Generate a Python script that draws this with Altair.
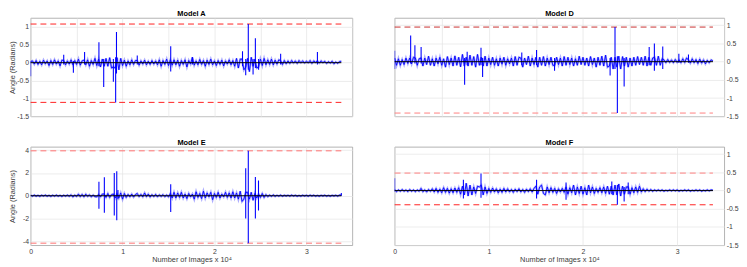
import altair as alt
import numpy as np
import pandas as pd

# ---------------- data ----------------
STEP = 200
N = 170
X_IMAGES = [i * STEP for i in range(N)]   # sample index (number of images)
X_END = 33800

# background noise band of each model (one value per 200 images)
MODEL_A = [
    0.03, 0.05, -0.04, 0.06, -0.05, 0.04, -0.06, 0.07, -0.03, 0.05,
    -0.08, 0.06, -0.05, 0.08, -0.04, 0.05, -0.09, 0.07, 0.06, -0.06,
    0.05, -0.04, 0.08, -0.06, 0.06, -0.05, 0.10, -0.07, 0.05, 0.07,
    -0.06, 0.08, -0.10, 0.06, -0.05, 0.12, -0.08, 0.10, -0.12, 0.10,
    -0.10, 0.12, -0.10, 0.14, -0.15, -0.12, -0.15, 0.14, -0.20, 0.12,
    -0.08, 0.07, -0.10, 0.05, -0.06, 0.08, -0.05, 0.06, 0.06, -0.07,
    0.05, -0.04, 0.07, -0.06, 0.04, -0.05, 0.06, -0.04, 0.05, -0.06,
    0.08, -0.10, 0.06, -0.05, 0.10, -0.08, 0.08, -0.07, 0.08, -0.06,
    0.07, -0.10, 0.06, -0.05, 0.08, -0.12, 0.06, -0.04, 0.15, -0.07,
    0.05, -0.06, 0.09, -0.05, 0.06, -0.10, 0.07, -0.05, 0.10, -0.06,
    0.05, -0.08, 0.06, -0.05, 0.07, -0.09, 0.05, -0.04, 0.08, -0.06,
    0.06, -0.10, 0.12, -0.15, 0.10, 0.10, -0.20, -0.12, 0.12, -0.25,
    0.15, -0.10, 0.10, -0.15, -0.12, 0.10, -0.08, 0.12, -0.06, 0.08,
    -0.05, 0.10, -0.06, 0.07, -0.04, 0.08, 0.05, -0.05, 0.06, -0.03,
    0.05, -0.02, 0.06, -0.01, 0.05, -0.02, 0.06, 0.00, 0.05, -0.01,
    0.04, 0.00, 0.06, -0.02, 0.05, 0.01, 0.05, -0.01, 0.05, 0.00,
    0.04, -0.02, 0.03, -0.01, 0.04, -0.03, 0.02, -0.02, 0.03, 0.04,
]

MODEL_D = [
    0.10, -0.10, 0.08, -0.10, 0.06, -0.08, 0.10, -0.05, 0.10, -0.06,
    0.12, 0.10, -0.10, 0.08, 0.10, -0.12, 0.10, -0.08, 0.15, -0.10,
    0.08, -0.12, 0.10, -0.06, 0.12, -0.10, 0.08, -0.15, 0.14, -0.08,
    0.10, -0.12, 0.16, -0.10, 0.12, -0.14, 0.20, -0.12, 0.12, -0.12,
    0.18, -0.10, 0.14, -0.15, 0.20, -0.10, 0.12, -0.12, 0.15, -0.12,
    0.10, -0.08, 0.12, -0.10, 0.08, -0.12, 0.10, -0.07, 0.12, -0.10,
    0.08, -0.06, 0.10, -0.12, 0.14, -0.10, 0.12, 0.10, -0.15, 0.10,
    -0.08, 0.15, -0.12, 0.10, -0.08, 0.12, -0.15, 0.12, -0.10, 0.14,
    -0.12, 0.10, -0.08, 0.12, -0.10, -0.10, 0.12, -0.08, 0.10, -0.12,
    0.14, -0.10, 0.12, -0.08, 0.10, -0.12, 0.08, -0.10, 0.15, -0.08,
    0.12, -0.10, 0.10, -0.12, 0.14, -0.08, 0.10, -0.15, 0.12, -0.10,
    0.15, -0.12, 0.18, -0.15, -0.12, 0.12, -0.20, 0.12, -0.15, 0.15,
    -0.20, 0.14, -0.12, 0.12, -0.15, 0.10, -0.12, 0.12, -0.10, 0.14,
    -0.08, 0.12, -0.10, 0.15, -0.12, 0.12, -0.10, 0.10, 0.12, -0.10,
    0.15, -0.10, 0.08, 0.05, -0.03, 0.06, -0.02, 0.05, -0.03, 0.06,
    -0.02, 0.05, -0.03, 0.08, -0.02, 0.10, 0.05, -0.04, 0.08, -0.03,
    0.06, -0.05, 0.07, -0.04, 0.05, -0.06, 0.04, -0.03, 0.05, 0.02,
]

MODEL_E = [
    0.05, -0.04, 0.06, -0.05, 0.04, -0.06, 0.05, -0.03, 0.06, -0.05,
    0.04, -0.06, 0.05, -0.04, 0.06, -0.05, 0.04, -0.07, 0.05, -0.04,
    0.06, -0.05, 0.08, -0.10, 0.05, -0.06, 0.15, -0.08, 0.12, -0.10,
    0.14, -0.06, 0.08, -0.10, 0.06, -0.08, -0.10, 0.12, -0.10, 0.15,
    0.15, -0.15, 0.20, -0.15, 0.10, 0.15, -0.20, 0.20, -0.20, 0.25,
    -0.30, 0.20, -0.15, 0.12, -0.10, 0.15, -0.12, 0.10, 0.20, -0.08,
    0.12, -0.10, 0.25, -0.08, 0.15, -0.12, 0.10, -0.08, 0.12, -0.10,
    0.08, -0.06, 0.10, -0.08, 0.06, -0.10, 0.20, -0.20, 0.30, -0.20,
    0.25, -0.15, 0.30, -0.20, 0.15, -0.25, 0.20, -0.10, 0.15, -0.30,
    0.35, -0.15, 0.20, -0.25, 0.40, -0.20, 0.25, -0.10, 0.30, -0.35,
    0.20, -0.15, 0.30, -0.20, 0.15, -0.10, 0.30, -0.15, 0.25, -0.20,
    0.35, -0.20, 0.25, -0.30, 0.40, -0.50, -0.30, 0.30, 0.30, -0.30,
    0.30, -0.40, 0.20, -0.20, 0.15, -0.15, 0.20, -0.15, 0.10, -0.08,
    0.06, -0.05, 0.08, -0.06, 0.05, -0.04, 0.06, -0.05, 0.04, -0.03,
    0.05, -0.04, 0.06, -0.03, 0.04, -0.05, 0.03, -0.04, 0.05, -0.03,
    0.04, -0.05, 0.06, -0.03, 0.05, -0.04, 0.03, -0.05, 0.04, -0.03,
    0.05, -0.04, 0.03, -0.05, 0.04, -0.03, 0.05, -0.04, 0.06, 0.05,
]

MODEL_F = [
    0.03, -0.03, 0.02, -0.02, 0.03, -0.02, 0.02, -0.03, 0.03, -0.02,
    0.02, -0.03, 0.02, -0.02, 0.06, -0.03, 0.02, -0.04, 0.03, -0.02,
    0.05, -0.04, 0.06, -0.05, 0.04, -0.06, 0.08, -0.05, 0.06, -0.07,
    0.05, -0.06, 0.07, -0.05, 0.08, -0.10, 0.12, -0.12, 0.20, -0.15,
    0.15, -0.12, 0.10, -0.08, 0.12, 0.10, 0.15, -0.12, 0.10, -0.08,
    0.06, -0.05, 0.07, -0.04, 0.05, -0.06, 0.04, -0.05, 0.06, -0.04,
    0.05, -0.04, 0.03, -0.05, 0.04, -0.03, 0.05, -0.04, 0.03, -0.05,
    0.04, -0.03, 0.05, -0.04, 0.06, 0.12, -0.10, 0.10, 0.15, -0.08,
    -0.12, 0.10, -0.06, 0.08, -0.05, 0.06, -0.08, 0.05, -0.04, 0.06,
    -0.05, 0.10, -0.10, 0.08, -0.06, 0.15, -0.12, 0.10, -0.08, 0.12,
    -0.10, 0.08, -0.12, 0.15, -0.06, 0.10, -0.08, 0.06, -0.05, 0.08,
    -0.06, 0.10, -0.08, 0.12, -0.10, 0.12, -0.12, 0.15, -0.12, 0.18,
    -0.15, 0.12, -0.10, 0.10, 0.10, -0.10, 0.08, -0.06, 0.10, -0.05,
    0.12, -0.04, 0.05, -0.03, 0.04, -0.02, 0.03, -0.02, 0.02, -0.01,
    0.02, -0.01, 0.02, -0.02, 0.01, -0.01, 0.02, -0.01, 0.02, -0.01,
    0.02, -0.02, 0.01, -0.01, 0.02, -0.01, 0.02, -0.02, 0.01, -0.01,
    0.02, -0.01, 0.02, -0.02, 0.01, -0.01, 0.02, -0.01, 0.02, 0.01,
]

# isolated spikes: image index, lowest and highest angle reached
SPIKE_X_A = [0, 3600, 4650, 5870, 7430, 7950, 9000, 9250, 9340, 11600, 15240, 17600,
             23050, 23400, 23680, 24200, 24450, 24800, 27200, 31200]
SPIKE_LO_A = [-0.38, -0.05, -0.28, -0.05, -0.10, -0.68, -0.53, -1.11, -0.30, -0.05, -0.25, -0.05,
              -0.10, -0.35, -0.20, -0.33, -0.15, -0.20, -0.05, -0.05]
SPIKE_HI_A = [0.05, 0.22, 0.05, 0.30, 0.57, 0.10, 0.10, 0.15, 0.86, 0.20, 0.46, 0.15,
              0.32, 0.10, 1.08, 0.10, 0.68, 0.10, 0.25, 0.30]

SPIKE_X_D = [0, 1700, 2150, 2810, 7430, 7700, 9170, 9340, 13500, 15070, 16980, 22880,
             23400, 23650, 24370, 27030, 27580, 28470, 30180, 31200]
SPIKE_LO_D = [-0.20, -0.05, -0.05, -0.05, -0.63, -0.10, -0.10, -0.42, -0.10, -0.10, -0.25, -0.38,
              -0.20, -1.41, -0.68, -0.10, -0.25, -0.20, -0.03, -0.03]
SPIKE_HI_D = [0.30, 0.72, 0.45, 0.40, 0.10, 0.27, 0.38, 0.10, 0.25, 0.32, 0.10, 0.10,
              0.95, 0.15, 0.10, 0.40, 0.50, 0.42, 0.22, 0.20]

SPIKE_X_E = [7430, 8020, 9100, 9370, 9500, 15240, 23400, 23680, 24450, 24790, 33800]
SPIKE_LO_E = [-1.15, -1.50, -1.74, -2.16, -0.30, -1.43, -1.99, -4.17, -2.00, -1.30, 0.00]
SPIKE_HI_E = [1.24, 1.62, 2.00, 2.16, 0.50, 1.00, 2.41, 3.95, 1.65, 1.35, 0.25]

SPIKE_X_F = [0, 7300, 9170, 15070, 18200, 23060, 23650, 24370, 24800]
SPIKE_LO_F = [-0.03, -0.22, -0.20, -0.22, -0.25, -0.10, -0.39, -0.30, -0.10]
SPIKE_HI_F = [0.34, 0.30, 0.47, 0.30, 0.22, 0.25, 0.15, 0.10, 0.22]

# dashed limit lines (upper, lower) and their colours
THRESH_A = [1.08, -1.11]
THRESH_D = [0.95, -1.41]
THRESH_E = [3.95, -4.17]
THRESH_F = [0.48, -0.39]
THRESH_COLORS_A = ["#ff2020", "#ff2020"]
THRESH_COLORS_D = ["#c83030", "#ff8080"]
THRESH_COLORS_E = ["#ff7070", "#ff7070"]
THRESH_COLORS_F = ["#ff8080", "#ff2020"]

YDOM_A = [-1.5, 1.25]
YDOM_D = [-1.5, 1.2]
YDOM_E = [-4.35, 4.3]
YDOM_F = [-1.5, 1.2]

YTICKS_SMALL = [-1.5, -1, -0.5, 0, 0.5, 1]
YTICKS_E = [-4, -2, 0, 2, 4]
XTICKS_TOP = [0, 5000, 10000, 15000, 20000, 25000, 30000, 35000]
XTICKS_BOTTOM = [0, 10000, 20000, 30000]

Y_TITLE = "Angle (Radians)"
X_TITLE = "Number of Images x 10\u2074"
FONT = "Liberation Sans"

LEFT_W = 327
RIGHT_W = 335
PANEL_H = 100


def panel(name, vals, sx, slo, shi, thr, tcol, ydom, yticks, left, bottom, width):
    assert len(vals) == N, (name, len(vals))
    df = pd.DataFrame({"x": X_IMAGES, "y": vals})
    sdf = pd.DataFrame({"x": sx, "y": slo, "y2": shi})
    zdf = pd.DataFrame({"x": [0, X_END], "y": [0.0, 0.0]})
    tdf = pd.DataFrame({"x": [0, 0], "x2": [X_END, X_END], "y": thr, "c": tcol})

    if bottom:
        xaxis = alt.Axis(values=XTICKS_BOTTOM, labelExpr="'' + (datum.value / 10000)",
                         title=X_TITLE, grid=True, labelPadding=2, titlePadding=2)
    else:
        xaxis = alt.Axis(values=XTICKS_TOP, labels=False, title=None, grid=True,
                         minExtent=0, maxExtent=0)
    yaxis = alt.Axis(orient="left" if left else "right", values=yticks,
                     labelExpr="'' + datum.value", title=Y_TITLE if left else None,
                     minExtent=13, maxExtent=13, labelPadding=2, titlePadding=1)

    xenc = alt.X("x:Q", scale=alt.Scale(domain=[0, 35000], nice=False, zero=False), axis=xaxis)
    yenc = alt.Y("y:Q", scale=alt.Scale(domain=ydom, nice=False, zero=False), axis=yaxis)

    halo = alt.Chart(df).mark_line(color="#6a6aff", strokeWidth=2.2, opacity=0.55, clip=True).encode(x=xenc, y=yenc)
    line = alt.Chart(df).mark_line(color="#0000ff", strokeWidth=0.9, clip=True).encode(x=xenc, y=yenc)
    spikes = alt.Chart(sdf).mark_rule(color="#0000ff", strokeWidth=1.1, clip=True).encode(
        x=xenc, y=yenc, y2="y2:Q")
    zero = alt.Chart(zdf).mark_line(color="#000000", strokeWidth=1).encode(x=xenc, y=yenc)
    red = alt.Chart(tdf).mark_rule(strokeWidth=1, strokeDash=[6, 4]).encode(
        x=xenc, x2="x2:Q", y=yenc, color=alt.Color("c:N", scale=None))
    return alt.layer(red, halo, line, spikes, zero).properties(
        width=width, height=PANEL_H,
        title=alt.TitleParams(name, fontSize=7.5, fontWeight="bold", font=FONT, offset=0, anchor="middle"),
    )


pA = panel("Model A", MODEL_A, SPIKE_X_A, SPIKE_LO_A, SPIKE_HI_A, THRESH_A, THRESH_COLORS_A,
           YDOM_A, YTICKS_SMALL, True, False, LEFT_W)
pD = panel("Model D", MODEL_D, SPIKE_X_D, SPIKE_LO_D, SPIKE_HI_D, THRESH_D, THRESH_COLORS_D,
           YDOM_D, YTICKS_SMALL, False, False, RIGHT_W)
pE = panel("Model E", MODEL_E, SPIKE_X_E, SPIKE_LO_E, SPIKE_HI_E, THRESH_E, THRESH_COLORS_E,
           YDOM_E, YTICKS_E, True, True, LEFT_W)
pF = panel("Model F", MODEL_F, SPIKE_X_F, SPIKE_LO_F, SPIKE_HI_F, THRESH_F, THRESH_COLORS_F,
           YDOM_F, YTICKS_SMALL, False, True, RIGHT_W)

chart = alt.vconcat(
    alt.hconcat(pA, pD, spacing=39),
    alt.hconcat(pE, pF, spacing=39),
    spacing=18,
).configure_view(
    stroke="#a0a0a0", strokeWidth=0.8
).configure_axis(
    domain=False, ticks=False, tickSize=0, grid=True, gridColor="#e4e4e4", gridWidth=0.7,
    labelFont=FONT, labelFontSize=7, labelColor="#404040", labelFlush=False, labelOverlap=False,
    titleFont=FONT, titleFontSize=7.5, titleFontWeight="normal", titleColor="#404040",
).configure_title(
    font=FONT, fontSize=7.5, fontWeight="bold", color="#000000"
).properties(padding=0)

chart.save("out.html", embed_options={"renderer": "svg", "actions": False})
